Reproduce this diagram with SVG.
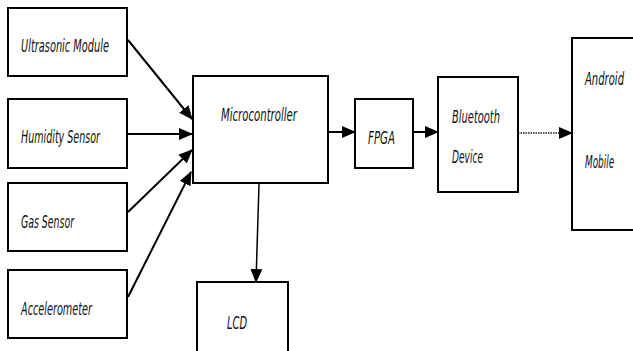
<svg xmlns="http://www.w3.org/2000/svg" width="633" height="351" viewBox="0 0 633 351">
<style>
.box{fill:#fff;stroke:#000;stroke-width:2}
.t{font-family:"Liberation Sans Narrow","DejaVu Sans Condensed","Liberation Sans",sans-serif;font-style:italic;font-size:18px;fill:#111}
.c{stroke:#000;stroke-width:2;fill:none}
</style>
<defs>
<marker id="ah" markerUnits="userSpaceOnUse" markerWidth="14" markerHeight="12" refX="13" refY="6" orient="auto">
<path d="M0,0 L14,6 L0,12 Z" fill="#000"/>
</marker>
</defs>
<rect width="633" height="351" fill="#fff"/>
<g id="connectors">
<line class="c" x1="128" y1="40" x2="192" y2="119" marker-end="url(#ah)"/>
<line class="c" x1="128" y1="134" x2="192" y2="134" marker-end="url(#ah)"/>
<line class="c" x1="128" y1="212" x2="192" y2="150" marker-end="url(#ah)"/>
<line class="c" x1="128" y1="297" x2="191" y2="172" marker-end="url(#ah)"/>
<line class="c" x1="328" y1="132" x2="355" y2="132" marker-end="url(#ah)"/>
<line class="c" x1="413" y1="132" x2="438" y2="132" marker-end="url(#ah)"/>
<line x1="518" y1="133" x2="572" y2="133" stroke="#555" stroke-width="2" stroke-dasharray="1.5,1" marker-end="url(#ah)"/>
<line x1="259" y1="184" x2="256" y2="282" stroke="#000" stroke-width="1.5" marker-end="url(#ah)"/>
</g>
<g id="ultrasonic"><rect class="box" x="8" y="8" width="119" height="68"/><text class="t" x="21" y="52" textLength="88" lengthAdjust="spacingAndGlyphs">Ultrasonic Module</text></g>
<g id="humidity"><rect class="box" x="8" y="99" width="119" height="69"/><text class="t" x="21" y="143" textLength="79" lengthAdjust="spacingAndGlyphs">Humidity Sensor</text></g>
<g id="gas"><rect class="box" x="8" y="183" width="119" height="68"/><text class="t" x="21" y="228" textLength="53" lengthAdjust="spacingAndGlyphs">Gas Sensor</text></g>
<g id="accelerometer"><rect class="box" x="8" y="270" width="119" height="68"/><text class="t" x="21" y="315" textLength="71" lengthAdjust="spacingAndGlyphs">Accelerometer</text></g>
<g id="microcontroller"><rect class="box" x="193" y="76" width="135" height="107"/><text class="t" x="221" y="121" textLength="76" lengthAdjust="spacingAndGlyphs">Microcontroller</text></g>
<g id="fpga"><rect class="box" x="355" y="99" width="58" height="69"/><text class="t" x="368" y="144" textLength="27" lengthAdjust="spacingAndGlyphs">FPGA</text></g>
<g id="bluetooth"><rect class="box" x="438" y="77" width="80" height="115"/><text class="t" x="452" y="123" textLength="48" lengthAdjust="spacingAndGlyphs">Bluetooth</text><text class="t" x="452" y="163" textLength="31" lengthAdjust="spacingAndGlyphs">Device</text></g>
<g id="android"><rect class="box" x="572" y="38" width="70" height="192"/><text class="t" transform="translate(585,85) scale(0.62,1)" x="0" y="0">Android</text><text class="t" transform="translate(585,168) scale(0.55,1)" x="0" y="0">Mobile</text></g>
<g id="lcd"><rect class="box" x="197" y="282" width="91" height="75"/><text class="t" x="227" y="329" textLength="20" lengthAdjust="spacingAndGlyphs">LCD</text></g>
</svg>
